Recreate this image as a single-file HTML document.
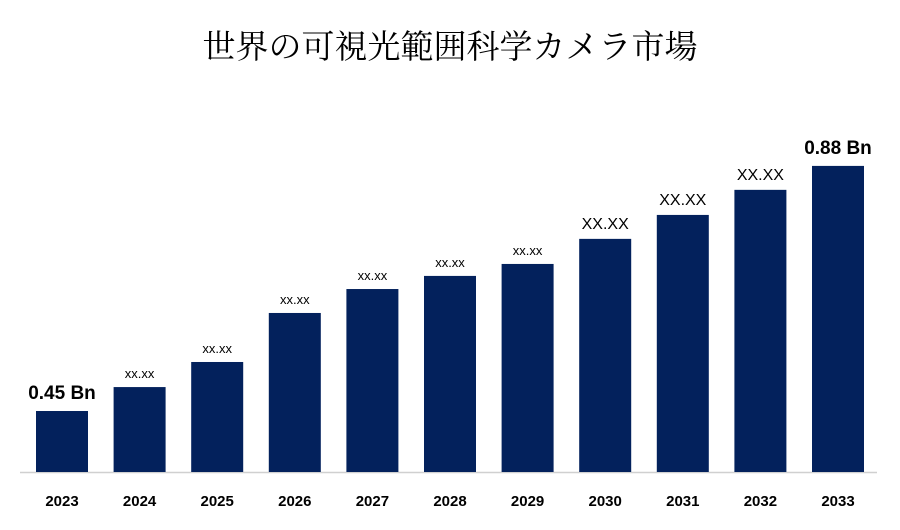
<!DOCTYPE html>
<html><head><meta charset="utf-8"><style>
html,body{margin:0;padding:0;background:#fff;}
body{width:900px;height:525px;overflow:hidden;}
</style></head><body>
<svg width="900" height="525" xmlns="http://www.w3.org/2000/svg">
<text x="450" y="58" text-anchor="middle" font-family="'Liberation Serif','Noto Serif CJK SC',serif" font-size="33" fill="#000">世界の可視光範囲科学カメラ市場</text>
<line x1="20" y1="472.5" x2="877" y2="472.5" stroke="#d0d0d0" stroke-width="1.5"/>
<g id="bars"></g>
</svg>
<script>
const years = ["2023","2024","2025","2026","2027","2028","2029","2030","2031","2032","2033"];
const values = [0.45,0.492,0.536,0.622,0.664,0.687,0.708,0.752,0.794,0.838,0.88];
const valueLabels = ["0.45 Bn","xx.xx","xx.xx","xx.xx","xx.xx","xx.xx","xx.xx","XX.XX","XX.XX","XX.XX","0.88 Bn"];
const NS="http://www.w3.org/2000/svg";
const base=472, v0=0.343, k=570, x0=36, step=77.6, bw=52;
function yPos(v){return base-(v-v0)*k;}
function xPos(i){return x0+i*step;}
const g=document.getElementById('bars');
years.forEach((yr,i)=>{
  const x=xPos(i), y=yPos(values[i]);
  const r=document.createElementNS(NS,'rect');
  
  
  r.setAttribute('x',x);r.setAttribute('y',y);r.setAttribute('width',bw);r.setAttribute('height',base-y);
  r.setAttribute('fill','#03215c');g.appendChild(r);
  const t=document.createElementNS(NS,'text');
  
  
  t.setAttribute('x',x+bw/2);t.setAttribute('y',506);t.setAttribute('text-anchor','middle');
  t.setAttribute('font-family','Liberation Sans, sans-serif');t.setAttribute('font-weight','bold');t.setAttribute('font-size','15');
  t.textContent=yr;g.appendChild(t);
  const lab=valueLabels[i];
  const l=document.createElementNS(NS,'text');
  
  
  l.setAttribute('x',x+bw/2);l.setAttribute('text-anchor','middle');
  l.setAttribute('font-family','Liberation Sans, sans-serif');
  let fs=13,off=9;
  if(lab.indexOf('Bn')>=0){fs=19;off=12;l.setAttribute('font-weight','bold');}
  else if(lab==='XX.XX'){fs=16;off=10;}
  l.setAttribute('font-size',fs);l.setAttribute('y',y-off);
  l.textContent=lab;g.appendChild(l);
});
</script>
</body></html>
